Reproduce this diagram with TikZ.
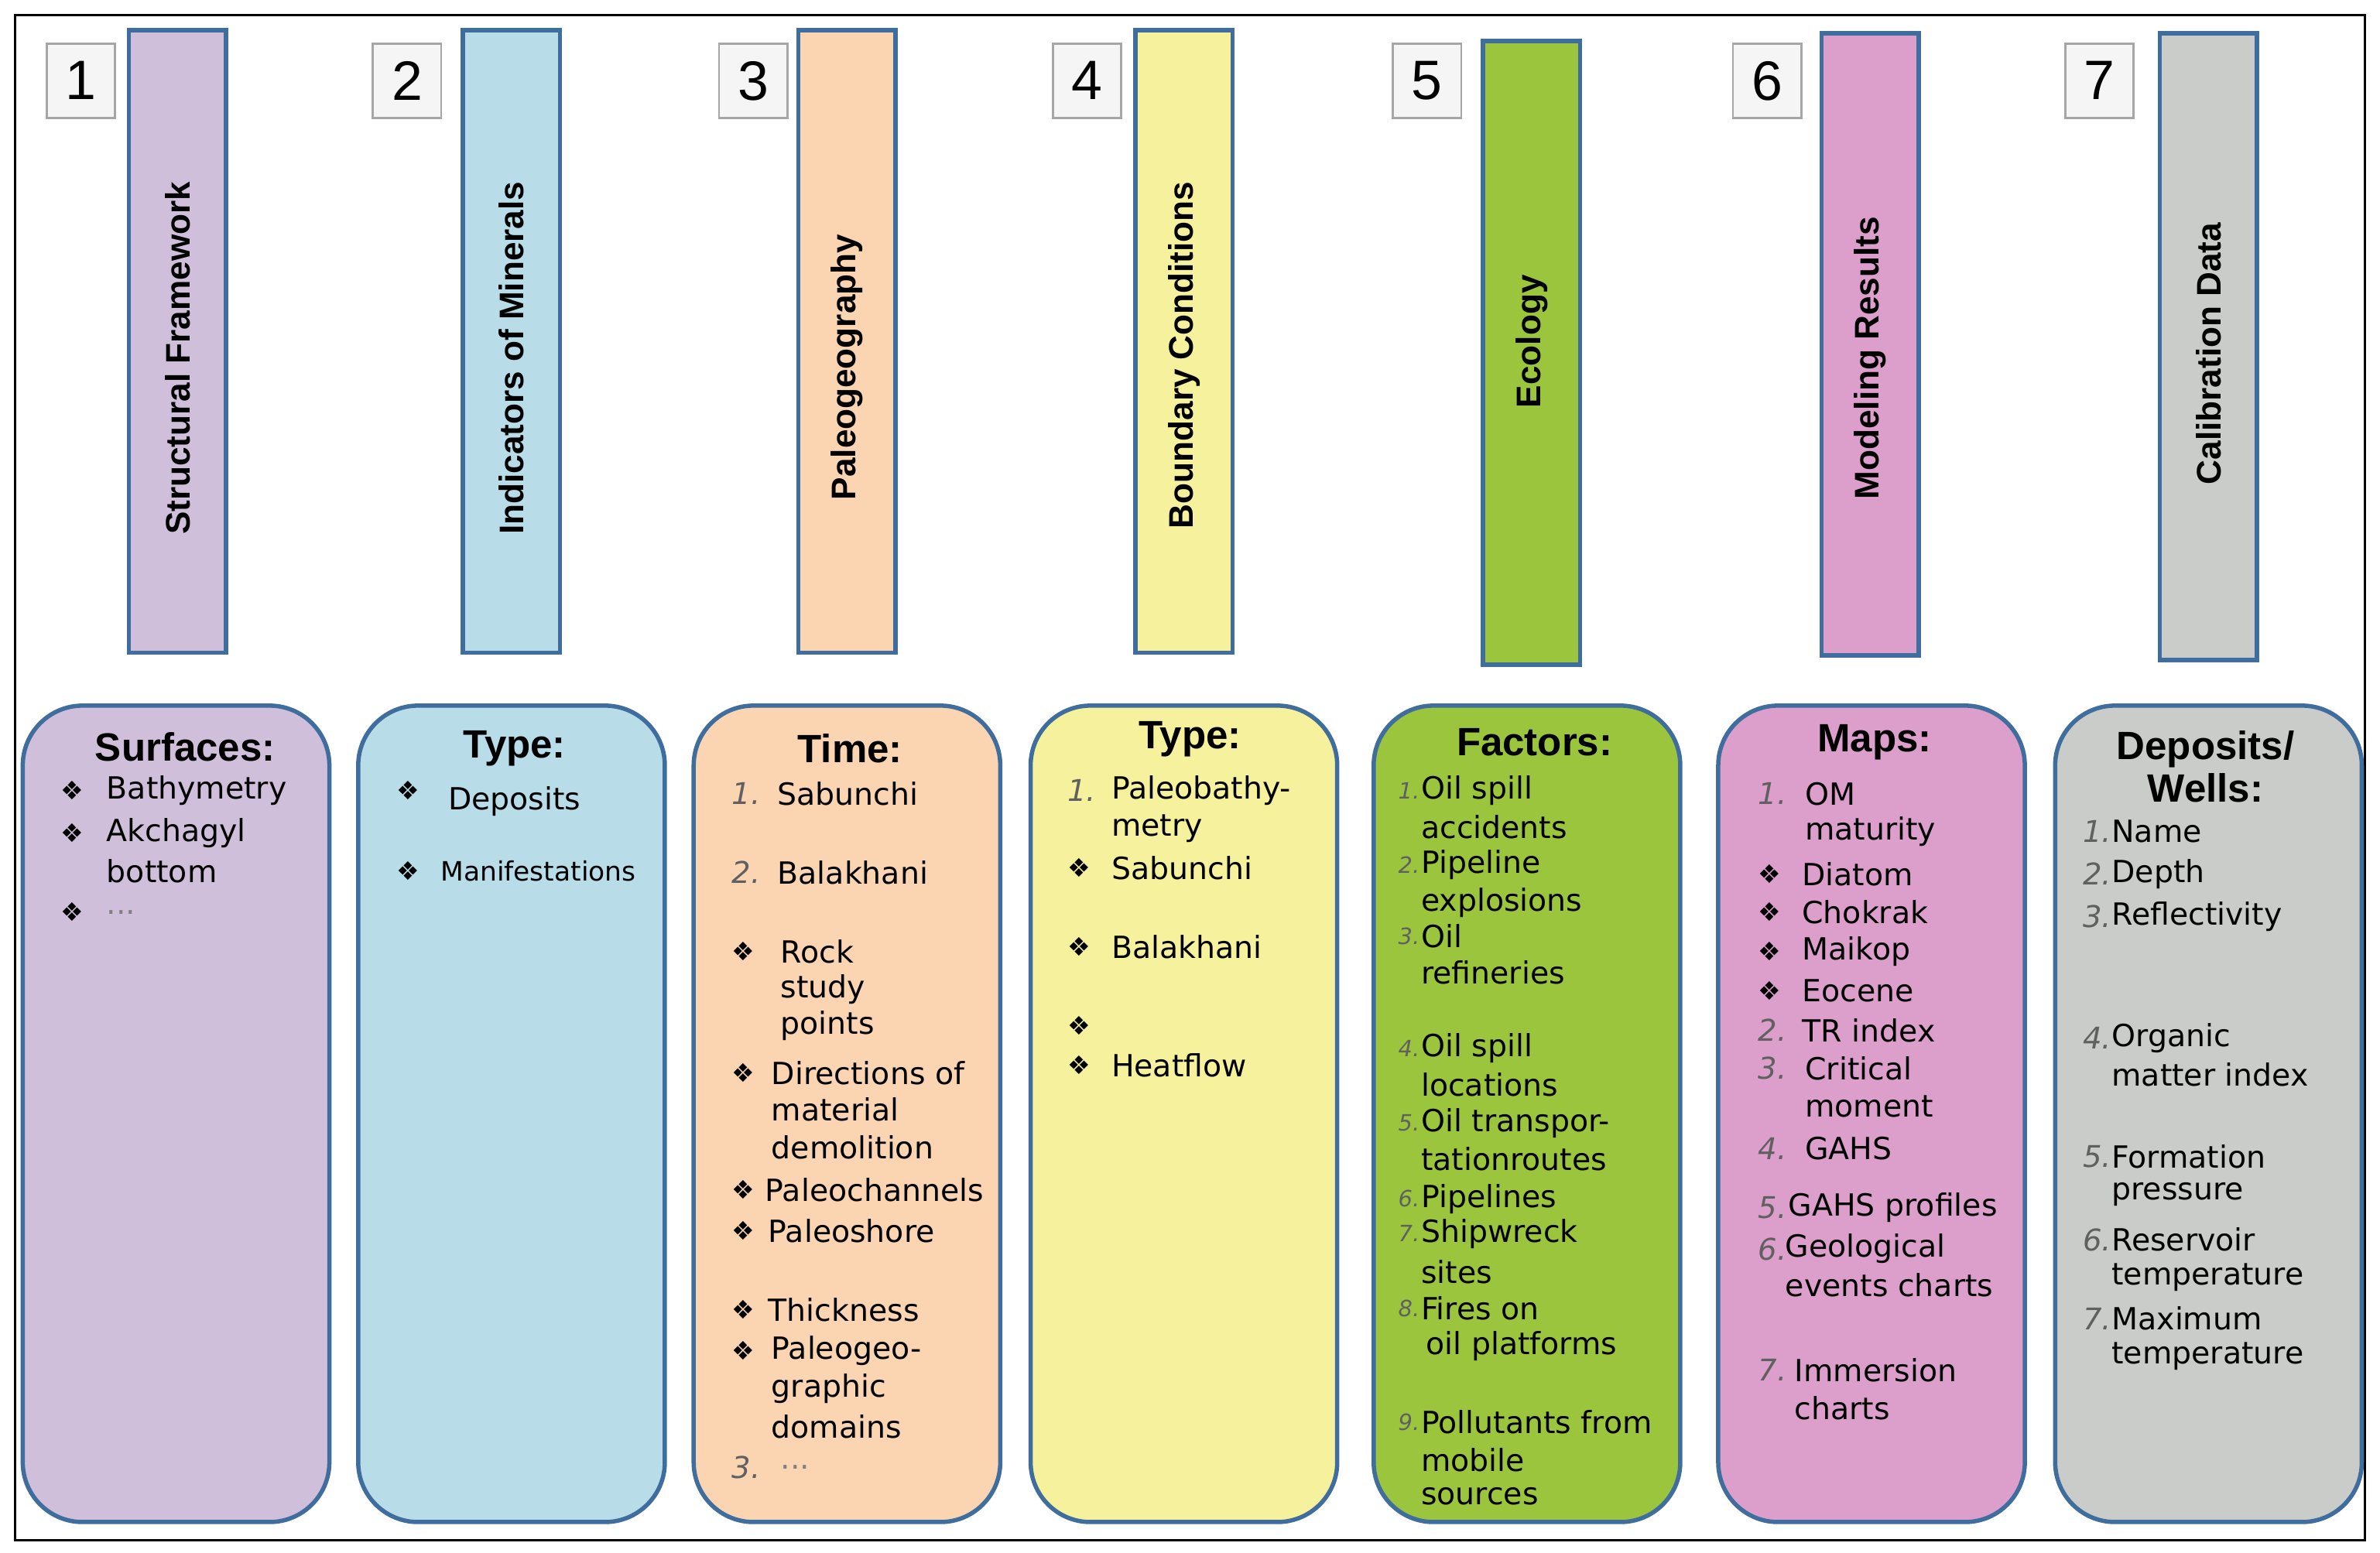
\documentclass[tikz,border=0pt]{standalone}
\usepackage{fontspec}
\setmainfont{DejaVu Sans}
\newfontfamily\headfont{Liberation Sans}
\definecolor{edge}{HTML}{3F6E9E}
\definecolor{cpurple}{HTML}{D0BFDA}
\definecolor{cblue}{HTML}{B8DDE9}
\definecolor{corange}{HTML}{FBD4B2}
\definecolor{cyellow}{HTML}{F6F19C}
\definecolor{cgreen}{HTML}{9BC53D}
\definecolor{cpink}{HTML}{DC9FCB}
\definecolor{cgrey}{HTML}{C9CCC8}
\definecolor{numgrey}{HTML}{606060}
\newcommand{\bul}{{\fontsize{12}{13}\selectfont ❖}}
\newcommand{\nm}[1]{{\color{numgrey}\itshape #1}}
\tikzset{
  numbox/.style={draw=gray!70, fill=gray!8, line width=1pt, font=\headfont\fontsize{26}{28}\selectfont},
  bar/.style={draw=edge, line width=2pt},
  barlabel/.style={rotate=90, font=\headfont\bfseries\fontsize{16}{18}\selectfont},
  card/.style={draw=edge, line width=2pt, rounded corners=28},
  head/.style={font=\headfont\bfseries\fontsize{18.5}{20}\selectfont},
  item/.style={anchor=west, font=\fontsize{14.3}{16}\selectfont, inner sep=0pt},
  marker/.style={anchor=west, font=\fontsize{14}{16}\selectfont, inner sep=0pt}
}
\begin{document}
\begin{tikzpicture}[x=0.025cm, y=-0.025cm]
\useasboundingbox (0,0) rectangle (1568,1023);
\draw[line width=1pt] (10,10) rectangle (1558,1015);

% columns: number, bar, card
\foreach \n/\xn/\xb/\xc/\ytop/\ybot/\col/\lab/\ly in {
  1/30/85/15/20/430/cpurple/Structural Framework/236,
  2/245/305/236/20/430/cblue/Indicators of Minerals/236,
  3/473/526/457/20/430/corange/Paleogeography/242,
  4/693/748/679/20/430/cyellow/Boundary Conditions/234,
  5/917/977/905/27/438/cgreen/Ecology/225,
  6/1141/1200/1132/22/432/cpink/Modeling Results/236,
  7/1360/1423/1354/22/435/cgrey/Calibration Data/233} {
  \node[numbox, minimum width=45*0.025cm, minimum height=49*0.025cm, anchor=north west] (num\n) at (\xn,28) {\n};
  \draw[bar, fill=\col] (\xb,\ytop) rectangle (\xb+64,\ybot);
  \node[barlabel] (bar\n) at (\xb+32,\ly) {\lab};
  \draw[card, fill=\col] (\xc,465) rectangle (\xc+202,1003);
}

% Surfaces
\node[head] (h1) at (122,492) {Surfaces:};
\foreach \i/\y/\m/\t in {1/521/\bul/Bathymetry, 2/549/\bul/Akchagyl, 3/574//bottom, 4/601/\bul/{\color{gray}...}} {
  \node[marker] (m1-\i) at (40,\y) {\m};
  \node[item] (t1-\i) at (70,\y) {\t};
}

% Indicators
\node[head] (h2) at (339,493) {Type:};
\node[marker] (m2-1) at (261,521) {\bul};
\node[item] (t2-1) at (295,528) {Deposits};
\node[marker] (m2-2) at (261,574) {\bul};
\node[item, font=\fontsize{12.5}{14}\selectfont] (t2-2) at (290,574) {Manifestations};

% Time
\node[head] (h3) at (560,493) {Time:};
\foreach \i/\y/\m/\x/\t in {1/523/\nm{1.}/512/Sabunchi, 2/575/\nm{2.}/512/Balakhani,
  3/627/\bul/514/Rock, 4/652//514/study, 5/676//514/points,
  6/707/\bul/508/Directions of, 7/731//508/material, 8/756//508/demolition,
  9/784/\bul/504/Paleochannels, 10/811/\bul/506/Paleoshore, 11/863/\bul/506/Thickness,
  12/890/\bul/508/Paleogeo-, 13/915//508/graphic, 14/940//508/domains,
  15/967/\nm{3.}/514/{\color{gray}...}} {
  \node[marker] (m3-\i) at (482,\y) {\m};
  \node[item] (t3-\i) at (\x,\y) {\t};
}

% Boundary conditions
\node[head] (h4) at (784,487) {Type:};
\foreach \i/\y/\m/\t in {1/521/\nm{1.}/Paleobathy-, 2/546//metry, 3/572/\bul/Sabunchi,
  4/624/\bul/Balakhani, 5/676/\bul/{}, 6/702/\bul/Heatflow} {
  \node[marker] (m4-\i) at (703,\y) {\m};
  \node[item] (t4-\i) at (732,\y) {\t};
}

% Factors
\node[head] (h5) at (1011,489) {Factors:};
\foreach \i/\y/\m/\t in {1/521/1./Oil spill, 2/545//accidents, 3/570/2./Pipeline,
  4/595//explosions, 5/617/3./Oil, 6/641//refineries, 7/691/4./Oil spill,
  8/715//locations, 9/740/5./Oil transpor-, 10/764//tationroutes, 11/790/6./Pipelines,
  12/813/7./Shipwreck, 13/838//sites, 14/862/8./Fires on, 15/887//{\,oil platforms},
  16/937/9./Pollutants from, 17/962//mobile, 18/986//sources} {
  \node[marker, font=\fontsize{10.5}{12}\selectfont] (m5-\i) at (921,\y) {\nm{\m}};
  \node[item] (t5-\i) at (936,\y) {\t};
}

% Maps
\node[head] (h6) at (1235,489) {Maps:};
\foreach \i/\y/\m/\x/\t in {1/523/\nm{1.}/1189/OM, 2/548//1189/maturity,
  3/576/\bul/1187/Diatom, 4/601/\bul/1187/Chokrak, 5/627/\bul/1187/Maikop,
  6/653/\bul/1187/Eocene, 7/679/\nm{2.}/1187/TR index, 8/704/\nm{3.}/1189/Critical,
  9/729//1189/moment, 10/757/\nm{4.}/1189/GAHS, 11/796/\nm{5.}/1178/GAHS profiles,
  12/823/\nm{6.}/1176/Geological, 13/847//1176/events charts,
  14/903/\nm{7.}/1182/Immersion, 15/928//1182/charts} {
  \node[marker] (m6-\i) at (1158,\y) {\m};
  \node[item] (t6-\i) at (\x,\y) {\t};
}

% Calibration
\node[head, align=center] (h7) at (1453,505) {Deposits/\\Wells:};
\foreach \i/\y/\m/\t in {1/548/1./Name, 2/576/2./Depth, 3/604/3./Reflectivity,
  4/684/4./Organic, 5/708//matter index, 6/762/5./Formation, 7/787//pressure,
  8/817/6./Reservoir, 9/842//temperature, 10/869/7./Maximum, 11/894//temperature} {
  \node[marker] (m7-\i) at (1372,\y) {\nm{\m}};
  \node[item] (t7-\i) at (1391,\y) {\t};
}
\end{tikzpicture}
\end{document}
